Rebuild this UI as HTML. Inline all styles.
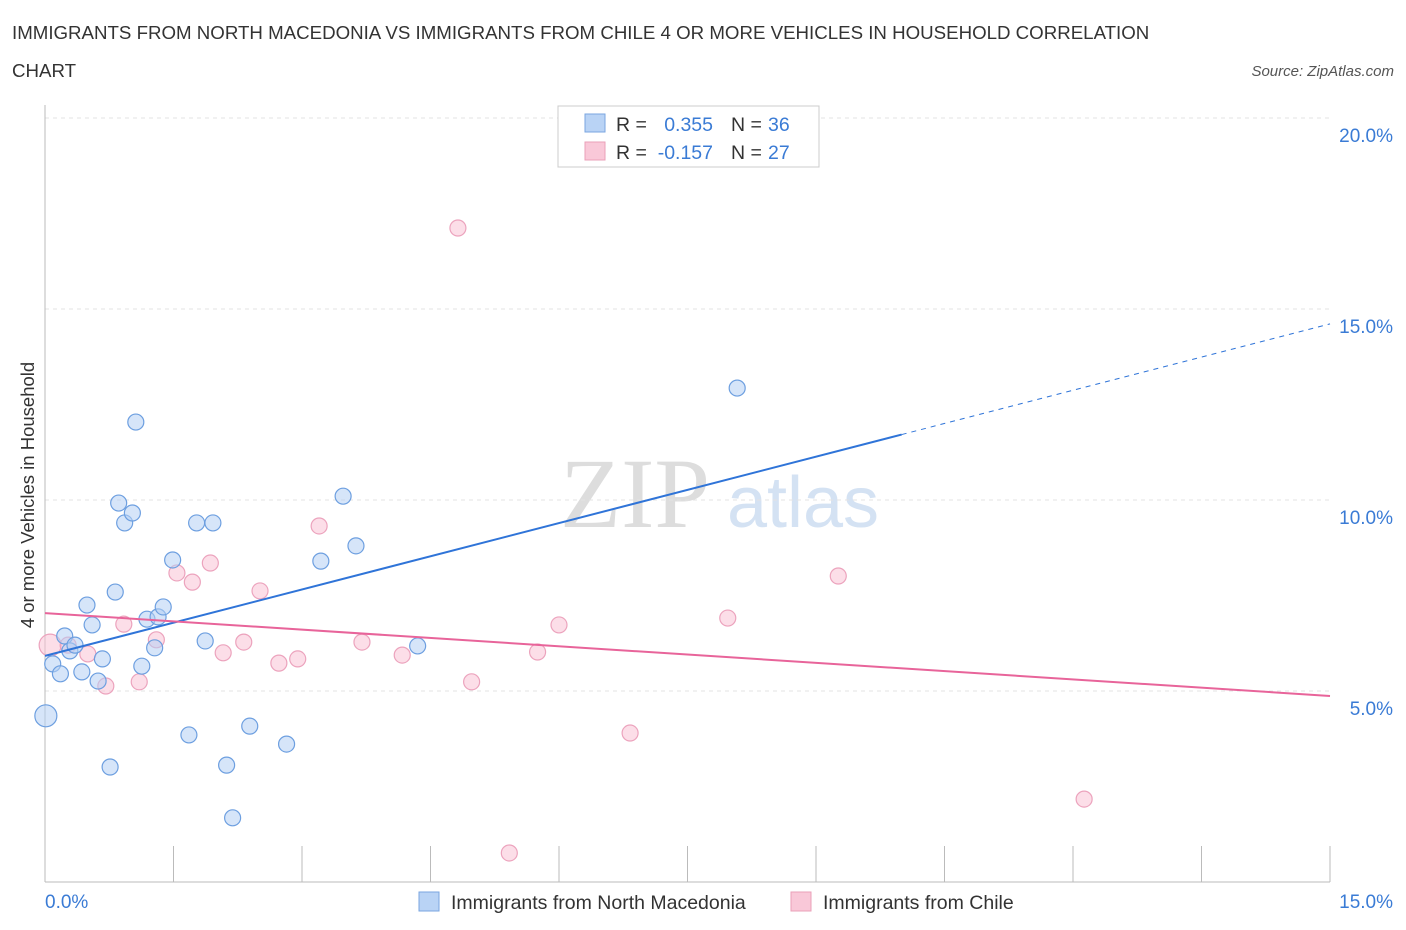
<!DOCTYPE html>
<html><head><meta charset="utf-8"><style>
body{margin:0;background:#fff;font-family:"Liberation Sans",sans-serif;}
svg{display:block}
</style></head><body>
<svg width="1406" height="930" id="chart">
<text x="12" y="39" font-size="18.7" fill="#333">IMMIGRANTS FROM NORTH MACEDONIA VS IMMIGRANTS FROM CHILE 4 OR MORE VEHICLES IN HOUSEHOLD CORRELATION</text>
<text x="12" y="77" font-size="18.7" fill="#333">CHART</text>
<text x="1394" y="76" font-size="15" fill="#555" font-style="italic" text-anchor="end">Source: ZipAtlas.com</text>
<text x="635" y="527" font-size="100" fill="#ddd" font-family="Liberation Serif,serif" text-anchor="middle">ZIP</text>
<text x="803" y="527" font-size="72" fill="#d4e2f3" text-anchor="middle">atlas</text>
<text transform="translate(34,495) rotate(-90)" font-size="18.5" fill="#333" text-anchor="middle">4 or more Vehicles in Household</text>
<g id="grid"></g><g id="marks"></g>
<g>
<rect x="558" y="106" width="261" height="61" fill="#fff" stroke="#ccc"/>
<rect x="585" y="114" width="20" height="18" fill="#b9d3f5" stroke="#7aa6e0"/>
<rect x="585" y="142" width="20" height="18" fill="#f9c8d8" stroke="#eaa0b8"/>
<text x="616" y="131" font-size="19.5" fill="#333">R =</text>
<text x="713" y="131" font-size="19.5" fill="#3a7bd5" text-anchor="end">0.355</text>
<text x="731" y="131" font-size="19.5" fill="#333">N =</text>
<text x="768" y="131" font-size="19.5" fill="#3a7bd5">36</text>
<text x="616" y="159" font-size="19.5" fill="#333">R =</text>
<text x="713" y="159" font-size="19.5" fill="#3a7bd5" text-anchor="end">-0.157</text>
<text x="731" y="159" font-size="19.5" fill="#333">N =</text>
<text x="768" y="159" font-size="19.5" fill="#3a7bd5">27</text>
</g>
<g>
<rect x="419" y="892" width="20" height="19" fill="#b9d3f5" stroke="#7aa6e0"/>
<text x="451" y="909" font-size="19.5" fill="#333">Immigrants from North Macedonia</text>
<rect x="791" y="892" width="20" height="19" fill="#f9c8d8" stroke="#eaa0b8"/>
<text x="823" y="909" font-size="19.5" fill="#333">Immigrants from Chile</text>
</g>
</svg>
<script>
const blueX=[0.01,0.09,0.18,0.23,0.29,0.35,0.43,0.49,0.55,0.62,0.67,0.76,0.82,0.86,0.93,1.02,1.06,1.13,1.19,1.28,1.32,1.38,1.49,1.68,1.77,1.87,1.96,2.12,2.19,2.39,2.82,3.22,3.48,3.63,4.35,8.08];
const blueY=[4.35,5.71,5.45,6.44,6.05,6.2,5.5,7.25,6.73,5.26,5.84,3.01,7.59,9.92,9.4,9.66,12.04,5.65,6.88,6.13,6.94,7.2,8.43,3.85,9.4,6.31,9.4,3.06,1.68,4.08,3.61,8.4,10.1,8.8,6.18,12.93];
const pinkX=[0.06,0.27,0.5,0.71,0.92,1.1,1.3,1.54,1.72,1.93,2.08,2.32,2.51,2.73,2.95,3.2,3.7,4.17,4.82,4.98,5.42,5.75,6.0,6.83,7.97,9.26,12.13];
const pinkY=[6.2,6.2,5.97,5.13,6.75,5.24,6.34,8.09,7.85,8.35,6.0,6.28,7.62,5.73,5.84,9.32,6.28,5.94,17.12,5.24,0.76,6.02,6.73,3.9,6.91,8.01,2.17];
const blueTrend=[5.92,14.61];
const pinkTrend=[7.04,4.87];
const yTicks=[5,10,15,20];
const yTickLabels=["5.0%","10.0%","15.0%","20.0%"];
const xEdgeLabels=["0.0%","15.0%"];
const X=v=>45+v*(1285/15), Y=v=>882-v*38.2;
const NS="http://www.w3.org/2000/svg";
function mk(t,a,p){const e=document.createElementNS(NS,t);for(const k in a)e.setAttribute(k,a[k]);p.appendChild(e);return e;}
const g=document.getElementById('grid'), m=document.getElementById('marks');
yTicks.forEach((t,i)=>{
 const l=mk('line',{x1:45,x2:1330,y1:Y(t),y2:Y(t),stroke:'#e3e3e3','stroke-dasharray':'4,4'},g);
 
 
 const tx=mk('text',{x:1393,y:Y(t)+24,'font-size':19,fill:'#3a7bd5','text-anchor':'end'},g);tx.textContent=yTickLabels[i];
 
 
});
const ax=mk('line',{x1:45,x2:45,y1:105,y2:882,stroke:'#bbb'},g);


const bx=mk('line',{x1:45,x2:1330,y1:882,y2:882,stroke:'#bbb'},g);


for(let i=0;i<=10;i++){const t=mk('line',{x1:X(i*1.5),x2:X(i*1.5),y1:846,y2:882,stroke:'#bbb'},g);
 
 }
const l0=mk('text',{x:45,y:908,'font-size':19,fill:'#3a7bd5'},g);l0.textContent=xEdgeLabels[0];


const l1=mk('text',{x:1393,y:908,'font-size':19,fill:'#3a7bd5','text-anchor':'end'},g);l1.textContent=xEdgeLabels[1];


pinkX.forEach((x,i)=>{const c=mk('circle',{cx:X(x),cy:Y(pinkY[i]),r:i==0?11:8,fill:'rgba(249,195,214,0.55)',stroke:'#eca3bd','stroke-width':1.2},m);
 
 });
blueX.forEach((x,i)=>{const c=mk('circle',{cx:X(x),cy:Y(blueY[i]),r:i==0?11:8,fill:'rgba(180,208,244,0.55)',stroke:'#6d9fe0','stroke-width':1.2},m);
 
 });
const bAt=x=>blueTrend[0]+(blueTrend[1]-blueTrend[0])*x/15;
const xs=10;
const b1=mk('line',{x1:X(0),y1:Y(bAt(0)),x2:X(xs),y2:Y(bAt(xs)),stroke:'#2f74d8','stroke-width':2},m);


const b2=mk('line',{x1:X(xs),y1:Y(bAt(xs)),x2:X(15),y2:Y(bAt(15)),stroke:'#2f74d8','stroke-width':1,'stroke-dasharray':'5,5'},m);


const p1=mk('line',{x1:X(0),y1:Y(pinkTrend[0]),x2:X(15),y2:Y(pinkTrend[1]),stroke:'#e8649a','stroke-width':2},m);


</script>
</body></html>
